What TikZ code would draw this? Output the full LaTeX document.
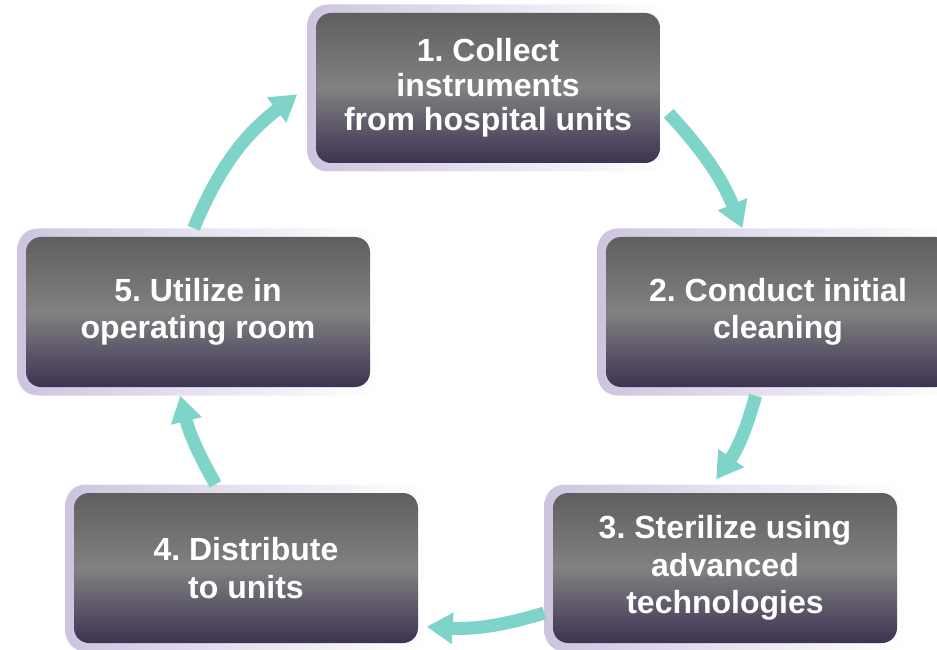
\documentclass[tikz,border=0pt]{standalone}
\usepackage{fontspec}
\setmainfont{Liberation Sans}
\usetikzlibrary{arrows.meta}
\frenchspacing

\definecolor{stepTop}{RGB}{95,95,95}
\definecolor{stepMid}{RGB}{129,129,129}
\definecolor{stepBot}{RGB}{61,50,82}
\definecolor{haloLav}{RGB}{205,197,222}
\definecolor{cycleTeal}{RGB}{126,212,200}

\begin{document}
\begin{tikzpicture}[
    x=1pt, y=1pt,
    >={Triangle[length=26pt, width=30pt]},
    halo/.style={rectangle, rounded corners=20pt, inner sep=0pt,
                 minimum width=361pt, minimum height=167pt,
                 left color=haloLav, right color=white},
    stepbox/.style={rectangle, rounded corners=15pt, inner sep=0pt,
                 minimum width=344pt, minimum height=150pt,
                 top color=stepTop, bottom color=stepBot, middle color=stepMid,
                 text=white, align=center,
                 font=\bfseries\fontsize{32}{37.5}\selectfont},
    cyclearrow/.style={->, line width=13pt, cycleTeal}
]

\clip (0,0) rectangle (937,649);

%-------------------------------
% 1) Process Steps (clockwise)
%-------------------------------
\node[halo] (halo1) at (488,561) {};
\node[stepbox, font=\bfseries\fontsize{32}{34.5}\selectfont] (collect) at (halo1)
      {1. Collect\\instruments\\from hospital units};

\node[halo] (halo2) at (778,337) {};
\node[stepbox] (clean) at (halo2)
      {2. Conduct initial\\cleaning};

\node[halo] (halo3) at (725,81) {};
\node[stepbox] (sterilize) at (halo3)
      {3. Sterilize using\\advanced\\technologies};

\node[halo] (halo4) at (246,81) {};
\node[stepbox] (distribute) at (halo4)
      {4. Distribute\\to units};

\node[halo] (halo5) at (198,337) {};
\node[stepbox] (utilize) at (halo5)
      {5. Utilize in\\operating room};

%-------------------------------
% 2) Cycle Arrows
%-------------------------------
\draw[cyclearrow] (halo1.-8) to[bend left=10] (halo2.113);
\draw[cyclearrow] (halo2.-105) to[bend left=10] ([yshift=5pt]halo3.96);
\draw[cyclearrow] (halo3.194) to[bend left=10] (halo4.-18);
\draw[cyclearrow] (halo4.110) to[bend left=8] (halo5.258);
\draw[cyclearrow] (halo5.93) to[bend left=15] ([xshift=-10pt]halo1.182);

\end{tikzpicture}
\end{document}
